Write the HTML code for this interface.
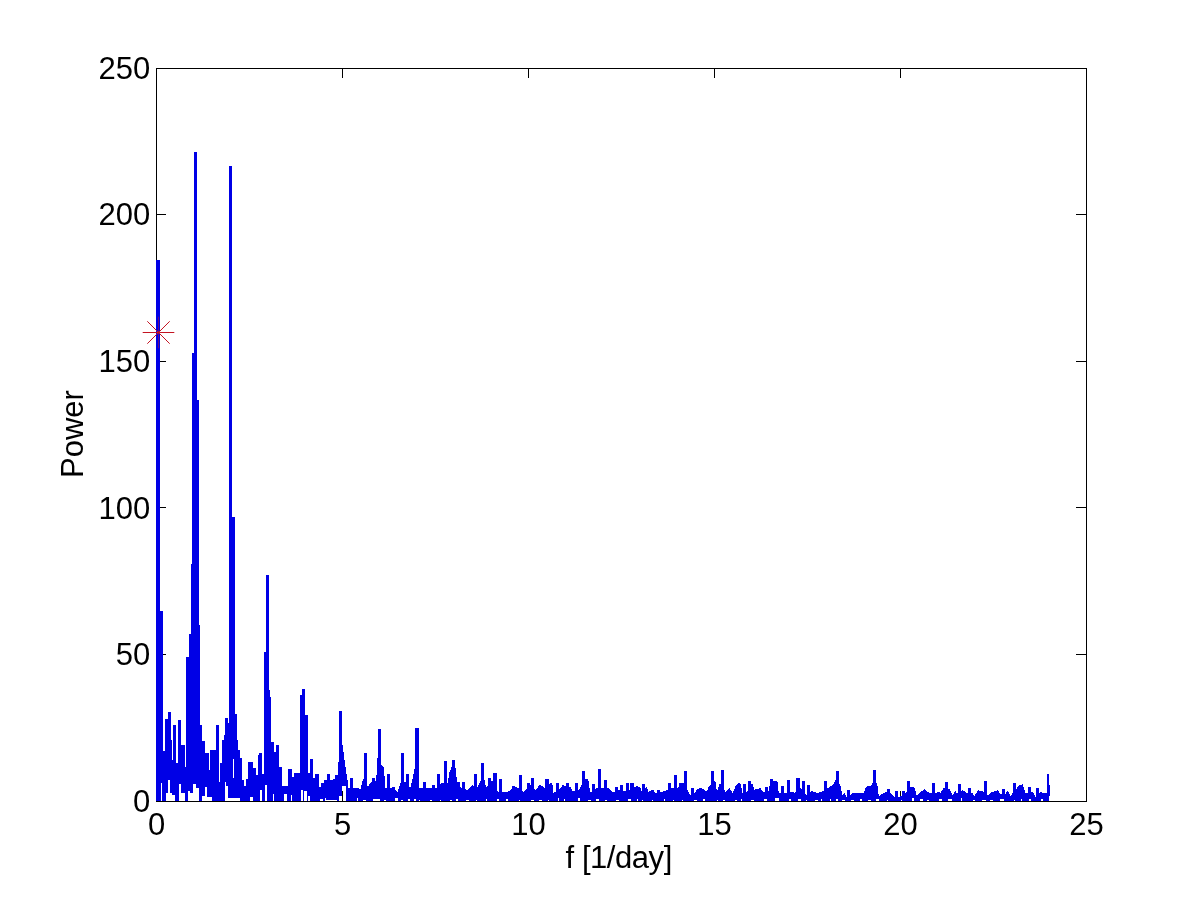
<!DOCTYPE html>
<html lang="en">
<head>
<meta charset="utf-8">
<title>Periodogram: Power vs f [1/day]</title>
<style>
html,body{margin:0;padding:0;background:#fff;}
body{width:1200px;height:900px;overflow:hidden;}
svg{display:block;}
text{font-family:"Liberation Sans",Arial,Helvetica,sans-serif;font-size:31.0px;fill:#000;}
</style>
</head>
<body>
<svg width="1200" height="900" viewBox="0 0 1200 900">
<rect width="1200" height="900" fill="#ffffff"/>
<g id="axes" fill="none" stroke="#000" stroke-width="1" shape-rendering="crispEdges">
<rect x="156.5" y="68.5" width="930.0" height="733.0"/>
<path d="M342.5,801.5V791.0M342.5,68.5V78.0M528.5,801.5V791.0M528.5,68.5V78.0M714.5,801.5V791.0M714.5,68.5V78.0M900.5,801.5V791.0M900.5,68.5V78.0M156.5,654.5H166.0M1086.5,654.5H1076.0M156.5,507.5H166.0M1086.5,507.5H1076.0M156.5,361.5H166.0M1086.5,361.5H1076.0M156.5,214.5H166.0M1086.5,214.5H1076.0"/>
</g>
<g id="series" shape-rendering="crispEdges">
<path fill="#0000e6" d="M156.00,260.0 L160.00,260.0 L160.00,611.0 L163.00,611.0 L163.00,751.0 L165.00,751.0 L165.00,718.5 L168.00,718.5 L168.00,712.0 L171.00,712.0 L171.00,740.0 L172.00,740.0 L172.00,760.0 L173.00,760.0 L173.00,725.0 L176.00,725.0 L176.00,763.0 L178.00,763.0 L178.00,720.0 L181.00,720.0 L181.00,745.0 L184.50,745.0 L184.50,767.0 L186.00,767.0 L186.00,656.7 L188.50,656.7 L188.50,634.0 L191.00,634.0 L191.00,564.0 L191.50,564.0 L191.50,353.0 L194.00,353.0 L194.00,152.0 L197.00,152.0 L197.00,400.0 L198.50,400.0 L198.50,625.0 L200.00,625.0 L200.00,725.0 L201.50,725.0 L201.50,741.0 L205.00,741.0 L205.00,753.0 L208.50,753.0 L208.50,770.0 L210.00,770.0 L210.00,749.5 L215.50,749.5 L215.50,750.5 L216.00,750.5 L216.00,725.0 L219.00,725.0 L219.00,782.0 L220.00,782.0 L220.00,763.0 L221.50,763.0 L221.50,740.0 L223.50,740.0 L223.50,734.5 L225.00,734.5 L225.00,718.0 L228.00,718.0 L228.00,723.0 L229.00,723.0 L229.00,165.8 L232.00,165.8 L232.00,517.0 L235.00,517.0 L235.00,714.0 L236.50,714.0 L236.50,740.0 L238.00,740.0 L238.00,750.0 L239.50,750.0 L239.50,758.0 L242.00,758.0 L242.00,780.0 L244.00,780.0 L244.00,786.0 L246.00,786.0 L246.00,779.0 L248.00,779.0 L248.00,762.0 L253.00,762.0 L253.00,768.0 L256.00,768.0 L256.00,775.0 L258.00,775.0 L258.00,755.0 L259.00,755.0 L259.00,753.0 L262.00,753.0 L262.00,774.0 L263.50,774.0 L263.50,652.0 L266.00,652.0 L266.00,575.0 L269.00,575.0 L269.00,690.0 L270.00,690.0 L270.00,697.0 L271.00,697.0 L271.00,741.7 L274.00,741.7 L274.00,752.0 L276.00,752.0 L276.00,744.5 L279.00,744.5 L279.00,766.7 L281.50,766.7 L281.50,786.0 L287.50,786.0 L287.50,769.0 L291.50,769.0 L291.50,777.0 L294.00,777.0 L294.00,772.5 L300.00,772.5 L300.00,695.0 L302.00,695.0 L302.00,689.0 L305.00,689.0 L305.00,715.0 L308.00,715.0 L308.00,773.0 L310.00,773.0 L310.00,759.0 L312.50,759.0 L312.50,778.0 L315.00,778.0 L315.00,774.0 L318.50,774.0 L318.50,786.7 L321.00,786.7 L321.00,782.5 L324.00,782.5 L324.00,780.0 L326.50,780.0 L326.50,774.0 L330.00,774.0 L330.00,780.0 L332.50,780.0 L332.50,779.0 L335.00,779.0 L335.00,775.0 L338.00,775.0 L338.00,762.0 L339.00,762.0 L339.00,711.3 L342.00,711.3 L342.00,745.0 L343.00,745.0 L343.00,752.0 L343.50,752.0 L343.50,760.0 L344.50,760.0 L344.50,767.0 L345.50,767.0 L345.50,774.0 L346.50,774.0 L346.50,780.0 L347.50,780.0 L347.50,788.0 L350.00,788.0 L350.00,777.5 L353.00,777.5 L353.00,788.0 L354.00,788.0 L354.00,788.0 L354.50,788.0 L354.50,787.9 L355.00,787.9 L355.00,787.8 L355.50,787.8 L355.50,787.8 L356.00,787.8 L356.00,787.7 L356.50,787.7 L356.50,787.6 L357.00,787.6 L357.00,787.5 L357.50,787.5 L357.50,787.8 L358.00,787.8 L358.00,788.2 L358.50,788.2 L358.50,788.8 L359.00,788.8 L359.00,789.2 L359.50,789.2 L359.50,789.8 L360.00,789.8 L360.00,789.0 L360.50,789.0 L360.50,787.0 L361.00,787.0 L361.00,785.0 L361.50,785.0 L361.50,783.0 L362.00,783.0 L362.00,781.0 L362.50,781.0 L362.50,779.0 L363.00,779.0 L363.00,778.5 L363.50,778.5 L363.50,779.5 L364.00,779.5 L364.00,752.5 L367.00,752.5 L367.00,786.2 L367.50,786.2 L367.50,786.3 L368.00,786.3 L368.00,785.6 L368.50,785.6 L368.50,784.8 L369.00,784.8 L369.00,784.0 L369.50,784.0 L369.50,783.3 L370.00,783.3 L370.00,782.5 L370.50,782.5 L370.50,781.8 L371.00,781.8 L371.00,781.6 L371.50,781.6 L371.50,781.6 L372.00,781.6 L372.00,778.3 L375.00,778.3 L375.00,781.1 L375.50,781.1 L375.50,781.0 L376.00,781.0 L376.00,775.0 L376.50,775.0 L376.50,763.0 L377.00,763.0 L377.00,757.5 L377.50,757.5 L377.50,758.4 L378.00,758.4 L378.00,729.2 L381.00,729.2 L381.00,765.0 L381.50,765.0 L381.50,765.5 L382.00,765.5 L382.00,766.0 L382.50,766.0 L382.50,766.5 L383.00,766.5 L383.00,767.0 L383.50,767.0 L383.50,768.3 L384.00,768.3 L384.00,776.2 L384.50,776.2 L384.50,784.1 L385.00,784.1 L385.00,788.0 L387.00,788.0 L387.00,774.0 L390.00,774.0 L390.00,788.0 L391.00,788.0 L391.00,788.1 L391.50,788.1 L391.50,788.4 L392.00,788.4 L392.00,786.7 L395.00,786.7 L395.00,790.4 L395.50,790.4 L395.50,790.7 L396.00,790.7 L396.00,791.0 L396.50,791.0 L396.50,791.3 L397.00,791.3 L397.00,791.6 L397.50,791.6 L397.50,790.9 L398.00,790.9 L398.00,789.4 L398.50,789.4 L398.50,787.8 L399.00,787.8 L399.00,786.3 L399.50,786.3 L399.50,784.7 L400.00,784.7 L400.00,783.2 L400.50,783.2 L400.50,782.9 L401.00,782.9 L401.00,753.3 L404.00,753.3 L404.00,781.8 L404.50,781.8 L404.50,781.8 L405.00,781.8 L405.00,782.4 L405.50,782.4 L405.50,782.9 L406.00,782.9 L406.00,774.0 L409.00,774.0 L409.00,787.1 L409.50,787.1 L409.50,787.7 L410.00,787.7 L410.00,787.0 L410.50,787.0 L410.50,785.0 L411.00,785.0 L411.00,783.0 L411.50,783.0 L411.50,781.0 L412.00,781.0 L412.00,779.0 L412.50,779.0 L412.50,776.7 L413.00,776.7 L413.00,774.1 L413.50,774.1 L413.50,771.6 L414.00,771.6 L414.00,769.0 L414.50,769.0 L414.50,766.9 L415.00,766.9 L415.00,728.3 L418.50,728.3 L418.50,786.8 L419.00,786.8 L419.00,788.0 L422.50,788.0 L422.50,781.7 L425.50,781.7 L425.50,788.0 L432.00,788.0 L432.00,785.0 L435.00,785.0 L435.00,788.0 L436.00,788.0 L436.00,787.5 L436.50,787.5 L436.50,787.0 L437.00,787.0 L437.00,774.0 L440.00,774.0 L440.00,783.5 L440.50,783.5 L440.50,783.0 L441.00,783.0 L441.00,783.0 L444.00,783.0 L444.00,761.3 L447.00,761.3 L447.00,783.0 L447.50,783.0 L447.50,781.3 L448.00,781.3 L448.00,778.0 L448.50,778.0 L448.50,774.7 L449.00,774.7 L449.00,772.3 L449.50,772.3 L449.50,770.9 L450.00,770.9 L450.00,769.5 L450.50,769.5 L450.50,768.1 L451.00,768.1 L451.00,766.7 L451.50,766.7 L451.50,766.1 L452.00,766.1 L452.00,760.0 L455.00,760.0 L455.00,768.0 L455.50,768.0 L455.50,772.4 L456.00,772.4 L456.00,777.3 L456.50,777.3 L456.50,781.8 L457.00,781.8 L457.00,781.7 L460.00,781.7 L460.00,787.2 L460.50,787.2 L460.50,787.9 L461.00,787.9 L461.00,788.1 L461.50,788.1 L461.50,788.3 L462.00,788.3 L462.00,781.7 L465.00,781.7 L465.00,789.3 L465.50,789.3 L465.50,789.5 L466.00,789.5 L466.00,789.6 L466.50,789.6 L466.50,789.8 L467.00,789.8 L467.00,789.9 L467.50,789.9 L467.50,789.7 L468.00,789.7 L468.00,789.1 L468.50,789.1 L468.50,788.5 L469.00,788.5 L469.00,787.9 L469.50,787.9 L469.50,787.3 L470.00,787.3 L470.00,786.7 L470.50,786.7 L470.50,786.1 L471.00,786.1 L471.00,785.5 L471.50,785.5 L471.50,785.0 L472.00,785.0 L472.00,785.2 L472.50,785.2 L472.50,785.3 L473.00,785.3 L473.00,785.5 L473.50,785.5 L473.50,785.6 L474.00,785.6 L474.00,774.0 L477.00,774.0 L477.00,786.6 L477.50,786.6 L477.50,786.1 L478.00,786.1 L478.00,785.0 L478.50,785.0 L478.50,783.9 L479.00,783.9 L479.00,782.8 L479.50,782.8 L479.50,781.7 L480.00,781.7 L480.00,780.6 L480.50,780.6 L480.50,780.0 L481.00,780.0 L481.00,763.3 L484.00,763.3 L484.00,780.0 L484.50,780.0 L484.50,781.5 L485.00,781.5 L485.00,784.6 L485.50,784.6 L485.50,787.7 L486.00,787.7 L486.00,787.4 L486.50,787.4 L486.50,786.8 L487.00,786.8 L487.00,786.1 L487.50,786.1 L487.50,785.5 L488.00,785.5 L488.00,778.0 L491.00,778.0 L491.00,781.0 L491.50,781.0 L491.50,780.3 L492.00,780.3 L492.00,780.5 L492.50,780.5 L492.50,781.6 L493.00,781.6 L493.00,772.5 L497.00,772.5 L497.00,791.2 L497.50,791.2 L497.50,791.7 L499.00,791.7 L499.00,779.0 L502.00,779.0 L502.00,791.7 L503.00,791.7 L503.00,791.8 L503.50,791.8 L503.50,791.9 L504.00,791.9 L504.00,792.0 L504.50,792.0 L504.50,792.1 L505.00,792.1 L505.00,792.2 L505.50,792.2 L505.50,792.3 L506.00,792.3 L506.00,792.4 L506.50,792.4 L506.50,792.5 L507.00,792.5 L507.00,792.1 L507.50,792.1 L507.50,791.7 L508.00,791.7 L508.00,791.3 L508.50,791.3 L508.50,790.9 L509.00,790.9 L509.00,790.6 L509.50,790.6 L509.50,790.2 L510.00,790.2 L510.00,789.9 L510.50,789.9 L510.50,789.6 L511.00,789.6 L511.00,789.4 L511.50,789.4 L511.50,789.1 L512.00,789.1 L512.00,786.0 L515.00,786.0 L515.00,787.4 L515.50,787.4 L515.50,787.1 L516.00,787.1 L516.00,787.2 L516.50,787.2 L516.50,787.5 L517.00,787.5 L517.00,787.8 L517.50,787.8 L517.50,788.1 L518.00,788.1 L518.00,788.4 L518.50,788.4 L518.50,775.3 L521.50,775.3 L521.50,790.7 L522.00,790.7 L522.00,791.0 L522.50,791.0 L522.50,791.3 L523.00,791.3 L523.00,791.7 L523.50,791.7 L523.50,791.2 L524.00,791.2 L524.00,790.8 L524.50,790.8 L524.50,790.2 L525.00,790.2 L525.00,789.8 L525.50,789.8 L525.50,789.2 L526.00,789.2 L526.00,788.8 L526.50,788.8 L526.50,782.5 L529.50,782.5 L529.50,785.2 L530.00,785.2 L530.00,785.2 L530.50,785.2 L530.50,785.6 L531.00,785.6 L531.00,777.5 L534.00,777.5 L534.00,788.7 L534.50,788.7 L534.50,789.1 L535.00,789.1 L535.00,789.5 L535.50,789.5 L535.50,790.0 L536.00,790.0 L536.00,789.3 L536.50,789.3 L536.50,788.5 L537.00,788.5 L537.00,787.7 L537.50,787.7 L537.50,787.0 L538.00,787.0 L538.00,786.2 L538.50,786.2 L538.50,785.4 L539.00,785.4 L539.00,785.1 L539.50,785.1 L539.50,785.2 L540.00,785.2 L540.00,785.4 L540.50,785.4 L540.50,785.5 L541.00,785.5 L541.00,785.7 L541.50,785.7 L541.50,785.8 L542.00,785.8 L542.00,786.3 L542.50,786.3 L542.50,786.7 L543.00,786.7 L543.00,787.2 L543.50,787.2 L543.50,787.6 L544.00,787.6 L544.00,788.0 L544.50,788.0 L544.50,779.0 L548.50,779.0 L548.50,784.2 L549.00,784.2 L549.00,783.8 L549.50,783.8 L549.50,783.4 L550.00,783.4 L550.00,783.0 L550.50,783.0 L550.50,782.5 L551.00,782.5 L551.00,782.7 L551.50,782.7 L551.50,782.9 L552.00,782.9 L552.00,784.9 L552.50,784.9 L552.50,788.8 L553.00,788.8 L553.00,792.6 L553.50,792.6 L553.50,792.7 L554.00,792.7 L554.00,792.3 L554.50,792.3 L554.50,791.9 L555.00,791.9 L555.00,791.5 L555.50,791.5 L555.50,791.2 L556.00,791.2 L556.00,782.5 L559.00,782.5 L559.00,788.6 L559.50,788.6 L559.50,788.2 L560.00,788.2 L560.00,787.7 L560.50,787.7 L560.50,787.1 L561.00,787.1 L561.00,786.5 L561.50,786.5 L561.50,785.9 L562.00,785.9 L562.00,785.3 L562.50,785.3 L562.50,785.1 L563.00,785.1 L563.00,785.2 L563.50,785.2 L563.50,785.3 L564.00,785.3 L564.00,785.5 L564.50,785.5 L564.50,785.6 L565.00,785.6 L565.00,785.7 L565.50,785.7 L565.50,785.9 L566.00,785.9 L566.00,782.5 L569.00,782.5 L569.00,786.8 L569.50,786.8 L569.50,786.9 L570.00,786.9 L570.00,787.4 L570.50,787.4 L570.50,788.2 L571.00,788.2 L571.00,789.0 L571.50,789.0 L571.50,789.8 L572.00,789.8 L572.00,790.6 L572.50,790.6 L572.50,791.0 L573.00,791.0 L573.00,790.9 L573.50,790.9 L573.50,790.8 L574.00,790.8 L574.00,790.7 L574.50,790.7 L574.50,790.6 L575.00,790.6 L575.00,783.0 L578.00,783.0 L578.00,790.1 L578.50,790.1 L578.50,789.9 L579.00,789.9 L579.00,788.8 L579.50,788.8 L579.50,787.7 L580.00,787.7 L580.00,786.6 L580.50,786.6 L580.50,785.6 L581.00,785.6 L581.00,784.9 L581.50,784.9 L581.50,784.2 L582.00,784.2 L582.00,771.3 L585.00,771.3 L585.00,779.1 L585.50,779.1 L585.50,779.1 L586.00,779.1 L586.00,779.2 L586.50,779.2 L586.50,779.3 L587.00,779.3 L587.00,779.4 L587.50,779.4 L587.50,779.5 L588.00,779.5 L588.00,781.1 L588.50,781.1 L588.50,784.4 L589.00,784.4 L589.00,787.6 L589.50,787.6 L589.50,790.9 L590.00,790.9 L590.00,792.3 L590.50,792.3 L590.50,792.0 L591.00,792.0 L591.00,791.6 L591.50,791.6 L591.50,791.2 L592.00,791.2 L592.00,784.0 L595.00,784.0 L595.00,788.8 L595.50,788.8 L595.50,788.4 L596.00,788.4 L596.00,788.0 L596.50,788.0 L596.50,788.0 L598.00,788.0 L598.00,769.0 L601.00,769.0 L601.00,788.0 L604.00,788.0 L604.00,780.3 L607.00,780.3 L607.00,788.0 L608.00,788.0 L608.00,788.2 L608.50,788.2 L608.50,788.8 L609.00,788.8 L609.00,789.2 L609.50,789.2 L609.50,789.8 L610.00,789.8 L610.00,790.2 L610.50,790.2 L610.50,790.8 L611.00,790.8 L611.00,791.2 L611.50,791.2 L611.50,791.8 L612.00,791.8 L612.00,792.2 L612.50,792.2 L612.50,792.4 L613.00,792.4 L613.00,792.2 L613.50,792.2 L613.50,792.0 L614.00,792.0 L614.00,791.7 L614.50,791.7 L614.50,787.0 L617.50,787.0 L617.50,790.2 L618.00,790.2 L618.00,790.0 L618.50,790.0 L618.50,790.1 L619.00,790.1 L619.00,790.2 L619.50,790.2 L619.50,785.0 L622.50,785.0 L622.50,790.9 L623.00,790.9 L623.00,791.0 L623.50,791.0 L623.50,790.9 L624.00,790.9 L624.00,790.9 L624.50,790.9 L624.50,790.8 L625.00,790.8 L625.00,790.7 L625.50,790.7 L625.50,790.6 L626.00,790.6 L626.00,782.5 L629.00,782.5 L629.00,790.1 L629.50,790.1 L629.50,790.0 L630.00,790.0 L630.00,782.5 L634.00,782.5 L634.00,787.4 L634.50,787.4 L634.50,787.1 L635.00,787.1 L635.00,786.8 L635.50,786.8 L635.50,786.5 L636.00,786.5 L636.00,786.3 L636.50,786.3 L636.50,786.0 L637.00,786.0 L637.00,786.2 L637.50,786.2 L637.50,786.5 L638.00,786.5 L638.00,786.7 L638.50,786.7 L638.50,786.9 L639.00,786.9 L639.00,787.2 L639.50,787.2 L639.50,787.4 L640.00,787.4 L640.00,788.1 L640.50,788.1 L640.50,789.4 L641.00,789.4 L641.00,790.6 L641.50,790.6 L641.50,791.7 L642.00,791.7 L642.00,784.0 L645.00,784.0 L645.00,788.2 L645.50,788.2 L645.50,787.7 L646.00,787.7 L646.00,787.2 L646.50,787.2 L646.50,786.9 L647.00,786.9 L647.00,788.8 L647.50,788.8 L647.50,790.7 L648.00,790.7 L648.00,791.6 L648.50,791.6 L648.50,791.4 L649.00,791.4 L649.00,791.2 L649.50,791.2 L649.50,791.0 L650.00,791.0 L650.00,790.8 L650.50,790.8 L650.50,790.6 L651.00,790.6 L651.00,790.4 L651.50,790.4 L651.50,790.2 L652.00,790.2 L652.00,790.0 L652.50,790.0 L652.50,789.8 L653.00,789.8 L653.00,790.1 L653.50,790.1 L653.50,790.9 L654.00,790.9 L654.00,791.8 L654.50,791.8 L654.50,792.6 L655.00,792.6 L655.00,793.0 L655.50,793.0 L655.50,792.9 L656.00,792.9 L656.00,792.8 L656.50,792.8 L656.50,792.7 L657.00,792.7 L657.00,790.0 L660.00,790.0 L660.00,792.0 L660.50,792.0 L660.50,791.9 L661.00,791.9 L661.00,791.8 L661.50,791.8 L661.50,791.7 L662.00,791.7 L662.00,791.5 L662.50,791.5 L662.50,791.3 L663.00,791.3 L663.00,791.2 L663.50,791.2 L663.50,791.0 L664.00,791.0 L664.00,790.8 L664.50,790.8 L664.50,790.7 L665.00,790.7 L665.00,790.5 L665.50,790.5 L665.50,790.3 L666.00,790.3 L666.00,790.2 L666.50,790.2 L666.50,790.0 L667.00,790.0 L667.00,789.8 L667.50,789.8 L667.50,789.6 L668.00,789.6 L668.00,782.5 L671.00,782.5 L671.00,788.4 L671.50,788.4 L671.50,788.3 L672.00,788.3 L672.00,788.1 L672.50,788.1 L672.50,788.0 L674.00,788.0 L674.00,775.0 L677.00,775.0 L677.00,788.0 L678.00,788.0 L678.00,786.8 L678.50,786.8 L678.50,784.2 L679.00,784.2 L679.00,783.0 L679.50,783.0 L679.50,782.9 L680.00,782.9 L680.00,782.9 L680.50,782.9 L680.50,782.8 L681.00,782.8 L681.00,782.8 L681.50,782.8 L681.50,782.7 L682.00,782.7 L682.00,782.6 L682.50,782.6 L682.50,782.6 L683.00,782.6 L683.00,782.5 L683.50,782.5 L683.50,783.0 L684.00,783.0 L684.00,771.3 L687.00,771.3 L687.00,790.2 L687.50,790.2 L687.50,791.2 L688.00,791.2 L688.00,792.1 L688.50,792.1 L688.50,792.9 L689.00,792.9 L689.00,793.8 L689.50,793.8 L689.50,794.6 L690.00,794.6 L690.00,794.9 L690.50,794.9 L690.50,794.7 L691.00,794.7 L691.00,788.0 L694.00,788.0 L694.00,793.2 L694.50,793.2 L694.50,792.9 L695.00,792.9 L695.00,791.9 L695.50,791.9 L695.50,790.9 L696.00,790.9 L696.00,789.9 L696.50,789.9 L696.50,789.0 L697.00,789.0 L697.00,788.9 L697.50,788.9 L697.50,788.7 L698.00,788.7 L698.00,788.6 L698.50,788.6 L698.50,788.5 L699.00,788.5 L699.00,788.4 L699.50,788.4 L699.50,788.3 L700.00,788.3 L700.00,788.1 L700.50,788.1 L700.50,788.0 L701.00,788.0 L701.00,788.2 L701.50,788.2 L701.50,788.5 L702.00,788.5 L702.00,788.8 L702.50,788.8 L702.50,789.0 L703.00,789.0 L703.00,789.3 L703.50,789.3 L703.50,789.6 L704.00,789.6 L704.00,789.9 L704.50,789.9 L704.50,790.3 L705.00,790.3 L705.00,790.6 L705.50,790.6 L705.50,791.0 L706.00,791.0 L706.00,791.4 L706.50,791.4 L706.50,791.6 L707.00,791.6 L707.00,790.1 L707.50,790.1 L707.50,788.7 L708.00,788.7 L708.00,787.3 L708.50,787.3 L708.50,786.0 L709.00,786.0 L709.00,785.5 L709.50,785.5 L709.50,785.0 L710.00,785.0 L710.00,784.5 L710.50,784.5 L710.50,784.0 L711.00,784.0 L711.00,771.3 L714.00,771.3 L714.00,780.7 L714.50,780.7 L714.50,780.2 L715.00,780.2 L715.00,781.7 L715.50,781.7 L715.50,785.2 L716.00,785.2 L716.00,788.6 L716.50,788.6 L716.50,791.5 L717.00,791.5 L717.00,790.0 L717.50,790.0 L717.50,788.5 L718.00,788.5 L718.00,786.9 L718.50,786.9 L718.50,785.4 L719.00,785.4 L719.00,783.9 L719.50,783.9 L719.50,782.6 L720.00,782.6 L720.00,783.5 L720.50,783.5 L720.50,784.3 L721.00,784.3 L721.00,770.3 L724.00,770.3 L724.00,790.4 L724.50,790.4 L724.50,791.3 L725.00,791.3 L725.00,791.5 L725.50,791.5 L725.50,791.0 L726.00,791.0 L726.00,790.5 L726.50,790.5 L726.50,790.1 L727.00,790.1 L727.00,789.6 L727.50,789.6 L727.50,789.2 L728.00,789.2 L728.00,788.7 L728.50,788.7 L728.50,788.2 L729.00,788.2 L729.00,788.4 L729.50,788.4 L729.50,789.1 L730.00,789.1 L730.00,789.8 L730.50,789.8 L730.50,790.5 L731.00,790.5 L731.00,791.2 L731.50,791.2 L731.50,791.9 L732.00,791.9 L732.00,792.6 L732.50,792.6 L732.50,792.4 L733.00,792.4 L733.00,791.2 L733.50,791.2 L733.50,790.0 L734.00,790.0 L734.00,788.8 L734.50,788.8 L734.50,787.5 L735.00,787.5 L735.00,786.3 L735.50,786.3 L735.50,785.1 L736.00,785.1 L736.00,784.6 L736.50,784.6 L736.50,784.3 L737.00,784.3 L737.00,783.9 L737.50,783.9 L737.50,783.5 L738.00,783.5 L738.00,783.1 L738.50,783.1 L738.50,782.7 L739.00,782.7 L739.00,782.8 L739.50,782.8 L739.50,783.5 L740.00,783.5 L740.00,784.2 L740.50,784.2 L740.50,784.9 L741.00,784.9 L741.00,788.0 L741.50,788.0 L741.50,791.3 L742.00,791.3 L742.00,792.9 L742.50,792.9 L742.50,792.8 L743.00,792.8 L743.00,784.0 L746.00,784.0 L746.00,791.8 L746.50,791.8 L746.50,791.6 L747.00,791.6 L747.00,790.8 L747.50,790.8 L747.50,790.0 L748.00,790.0 L748.00,781.3 L751.00,781.3 L751.00,784.2 L751.50,784.2 L751.50,783.4 L752.00,783.4 L752.00,783.8 L752.50,783.8 L752.50,785.5 L753.00,785.5 L753.00,787.2 L753.50,787.2 L753.50,788.9 L754.00,788.9 L754.00,789.6 L754.50,789.6 L754.50,789.5 L755.00,789.5 L755.00,789.3 L755.50,789.3 L755.50,789.2 L756.00,789.2 L756.00,789.1 L756.50,789.1 L756.50,788.9 L757.00,788.9 L757.00,788.8 L757.50,788.8 L757.50,788.6 L758.00,788.6 L758.00,788.5 L758.50,788.5 L758.50,788.4 L759.00,788.4 L759.00,788.2 L759.50,788.2 L759.50,788.1 L760.00,788.1 L760.00,788.4 L760.50,788.4 L760.50,789.1 L761.00,789.1 L761.00,789.9 L761.50,789.9 L761.50,790.6 L762.00,790.6 L762.00,791.4 L762.50,791.4 L762.50,792.1 L763.00,792.1 L763.00,792.4 L763.50,792.4 L763.50,792.3 L764.00,792.3 L764.00,792.2 L764.50,792.2 L764.50,792.0 L765.00,792.0 L765.00,787.0 L768.00,787.0 L768.00,791.1 L768.50,791.1 L768.50,790.5 L769.00,790.5 L769.00,786.0 L769.50,786.0 L769.50,781.5 L770.00,781.5 L770.00,779.0 L773.00,779.0 L773.00,781.3 L777.00,781.3 L777.00,781.7 L777.50,781.7 L777.50,786.2 L778.00,786.2 L778.00,790.7 L778.50,790.7 L778.50,793.0 L781.00,793.0 L781.00,786.0 L784.00,786.0 L784.00,793.0 L785.00,793.0 L785.00,792.9 L785.50,792.9 L785.50,792.8 L786.00,792.8 L786.00,792.7 L786.50,792.7 L786.50,792.6 L787.00,792.6 L787.00,780.3 L790.00,780.3 L790.00,791.8 L790.50,791.8 L790.50,791.7 L791.00,791.7 L791.00,791.8 L791.50,791.8 L791.50,791.9 L792.00,791.9 L792.00,792.0 L792.50,792.0 L792.50,792.2 L793.00,792.2 L793.00,792.3 L793.50,792.3 L793.50,792.4 L794.00,792.4 L794.00,792.5 L794.50,792.5 L794.50,792.1 L795.00,792.1 L795.00,791.7 L795.50,791.7 L795.50,777.5 L799.50,777.5 L799.50,788.4 L800.00,788.4 L800.00,788.0 L800.50,788.0 L800.50,788.6 L801.00,788.6 L801.00,789.2 L801.50,789.2 L801.50,789.8 L802.00,789.8 L802.00,781.3 L805.00,781.3 L805.00,794.3 L805.50,794.3 L805.50,794.9 L806.00,794.9 L806.00,794.7 L806.50,794.7 L806.50,794.4 L807.00,794.4 L807.00,785.3 L810.00,785.3 L810.00,792.0 L810.50,792.0 L810.50,791.6 L811.00,791.6 L811.00,791.3 L811.50,791.3 L811.50,791.0 L812.00,791.0 L812.00,791.2 L812.50,791.2 L812.50,791.4 L813.00,791.4 L813.00,791.6 L813.50,791.6 L813.50,791.8 L814.00,791.8 L814.00,792.0 L814.50,792.0 L814.50,792.2 L815.00,792.2 L815.00,792.4 L815.50,792.4 L815.50,792.6 L816.00,792.6 L816.00,792.8 L816.50,792.8 L816.50,793.0 L817.00,793.0 L817.00,792.9 L817.50,792.9 L817.50,792.7 L818.00,792.7 L818.00,792.6 L818.50,792.6 L818.50,792.5 L819.00,792.5 L819.00,792.3 L819.50,792.3 L819.50,792.2 L820.00,792.2 L820.00,792.1 L820.50,792.1 L820.50,791.9 L821.00,791.9 L821.00,791.8 L821.50,791.8 L821.50,791.7 L822.00,791.7 L822.00,791.4 L822.50,791.4 L822.50,791.0 L823.00,791.0 L823.00,790.7 L823.50,790.7 L823.50,790.4 L824.00,790.4 L824.00,781.3 L827.00,781.3 L827.00,788.2 L827.50,788.2 L827.50,787.9 L828.00,787.9 L828.00,787.5 L828.50,787.5 L828.50,787.2 L829.00,787.2 L829.00,786.9 L829.50,786.9 L829.50,786.6 L830.00,786.6 L830.00,786.3 L830.50,786.3 L830.50,786.0 L831.00,786.0 L831.00,785.7 L831.50,785.7 L831.50,785.4 L832.00,785.4 L832.00,785.1 L832.50,785.1 L832.50,784.5 L833.00,784.5 L833.00,783.5 L833.50,783.5 L833.50,782.5 L834.00,782.5 L834.00,781.5 L834.50,781.5 L834.50,780.5 L835.00,780.5 L835.00,780.2 L835.50,780.2 L835.50,780.8 L836.00,780.8 L836.00,771.3 L839.00,771.3 L839.00,784.2 L839.50,784.2 L839.50,784.8 L840.00,784.8 L840.00,786.2 L840.50,786.2 L840.50,788.8 L841.00,788.8 L841.00,791.2 L841.50,791.2 L841.50,793.8 L842.00,793.8 L842.00,794.8 L842.50,794.8 L842.50,794.2 L843.00,794.2 L843.00,793.8 L843.50,793.8 L843.50,793.2 L844.00,793.2 L844.00,793.4 L844.50,793.4 L844.50,794.2 L845.00,794.2 L845.00,795.0 L845.50,795.0 L845.50,795.8 L846.00,795.8 L846.00,796.6 L846.50,796.6 L846.50,796.5 L847.00,796.5 L847.00,790.0 L850.00,790.0 L850.00,794.5 L850.50,794.5 L850.50,794.2 L851.00,794.2 L851.00,794.0 L851.50,794.0 L851.50,793.7 L852.00,793.7 L852.00,793.4 L852.50,793.4 L852.50,793.1 L853.00,793.1 L853.00,793.0 L863.50,793.0 L863.50,791.9 L864.00,791.9 L864.00,790.6 L864.50,790.6 L864.50,789.3 L865.00,789.3 L865.00,788.1 L865.50,788.1 L865.50,786.8 L866.00,786.8 L866.00,786.6 L866.50,786.6 L866.50,786.5 L867.00,786.5 L867.00,786.4 L867.50,786.4 L867.50,786.3 L868.00,786.3 L868.00,786.3 L868.50,786.3 L868.50,786.2 L869.00,786.2 L869.00,786.1 L869.50,786.1 L869.50,786.0 L870.00,786.0 L870.00,785.9 L870.50,785.9 L870.50,785.8 L871.00,785.8 L871.00,785.1 L871.50,785.1 L871.50,784.2 L872.00,784.2 L872.00,783.4 L872.50,783.4 L872.50,783.0 L873.00,783.0 L873.00,770.3 L876.00,770.3 L876.00,782.6 L876.50,782.6 L876.50,782.9 L877.00,782.9 L877.00,786.4 L877.50,786.4 L877.50,790.0 L878.00,790.0 L878.00,793.5 L878.50,793.5 L878.50,796.7 L879.00,796.7 L879.00,796.2 L879.50,796.2 L879.50,795.8 L880.00,795.8 L880.00,795.3 L880.50,795.3 L880.50,794.9 L881.00,794.9 L881.00,794.4 L881.50,794.4 L881.50,794.0 L882.00,794.0 L882.00,793.7 L882.50,793.7 L882.50,793.4 L883.00,793.4 L883.00,793.1 L883.50,793.1 L883.50,792.9 L884.00,792.9 L884.00,792.6 L884.50,792.6 L884.50,792.3 L885.00,792.3 L885.00,792.0 L885.50,792.0 L885.50,791.7 L886.00,791.7 L886.00,791.9 L886.50,791.9 L886.50,792.1 L887.00,792.1 L887.00,789.0 L890.00,789.0 L890.00,793.4 L890.50,793.4 L890.50,793.6 L891.00,793.6 L891.00,793.8 L891.50,793.8 L891.50,794.1 L892.00,794.1 L892.00,794.6 L892.50,794.6 L892.50,795.1 L893.00,795.1 L893.00,795.7 L893.50,795.7 L893.50,796.2 L894.00,796.2 L894.00,796.7 L895.00,796.7 L895.00,791.3 L898.00,791.3 L898.00,796.7 L899.00,796.7 L899.00,796.7 L899.50,796.7 L899.50,796.4 L900.00,796.4 L900.00,796.1 L900.50,796.1 L900.50,795.8 L901.00,795.8 L901.00,795.6 L901.50,795.6 L901.50,795.3 L902.00,795.3 L902.00,791.3 L905.00,791.3 L905.00,793.3 L905.50,793.3 L905.50,793.0 L906.00,793.0 L906.00,792.4 L906.50,792.4 L906.50,791.7 L907.00,791.7 L907.00,781.3 L910.00,781.3 L910.00,787.0 L910.50,787.0 L910.50,786.4 L911.00,786.4 L911.00,786.5 L911.50,786.5 L911.50,786.7 L912.00,786.7 L912.00,786.8 L912.50,786.8 L912.50,787.0 L913.00,787.0 L913.00,787.2 L913.50,787.2 L913.50,787.4 L914.00,787.4 L914.00,788.3 L914.50,788.3 L914.50,789.9 L915.00,789.9 L915.00,791.4 L915.50,791.4 L915.50,793.0 L916.00,793.0 L916.00,794.6 L916.50,794.6 L916.50,795.9 L917.00,795.9 L917.00,795.4 L917.50,795.4 L917.50,794.9 L918.00,794.9 L918.00,794.4 L918.50,794.4 L918.50,793.9 L919.00,793.9 L919.00,793.3 L919.50,793.3 L919.50,792.8 L920.00,792.8 L920.00,792.3 L920.50,792.3 L920.50,791.8 L921.00,791.8 L921.00,791.3 L921.50,791.3 L921.50,790.9 L922.00,790.9 L922.00,790.5 L922.50,790.5 L922.50,790.1 L923.00,790.1 L923.00,789.6 L923.50,789.6 L923.50,789.2 L924.00,789.2 L924.00,789.2 L924.50,789.2 L924.50,789.6 L925.00,789.6 L925.00,790.0 L925.50,790.0 L925.50,790.4 L926.00,790.4 L926.00,790.7 L926.50,790.7 L926.50,791.1 L927.00,791.1 L927.00,791.5 L927.50,791.5 L927.50,791.8 L928.00,791.8 L928.00,792.1 L928.50,792.1 L928.50,792.4 L929.00,792.4 L929.00,792.6 L929.50,792.6 L929.50,792.9 L930.00,792.9 L930.00,793.0 L932.00,793.0 L932.00,783.3 L935.00,783.3 L935.00,793.0 L936.00,793.0 L936.00,792.8 L936.50,792.8 L936.50,792.6 L937.00,792.6 L937.00,792.4 L937.50,792.4 L937.50,792.2 L938.00,792.2 L938.00,792.0 L938.50,792.0 L938.50,791.8 L939.00,791.8 L939.00,792.0 L939.50,792.0 L939.50,792.7 L940.00,792.7 L940.00,792.6 L940.50,792.6 L940.50,791.9 L941.00,791.9 L941.00,791.1 L941.50,791.1 L941.50,790.3 L942.00,790.3 L942.00,789.6 L942.50,789.6 L942.50,788.8 L943.00,788.8 L943.00,788.1 L943.50,788.1 L943.50,788.1 L944.00,788.1 L944.00,788.2 L944.50,788.2 L944.50,788.3 L945.00,788.3 L945.00,781.7 L948.00,781.7 L948.00,788.9 L948.50,788.9 L948.50,789.0 L949.00,789.0 L949.00,789.4 L949.50,789.4 L949.50,790.3 L950.00,790.3 L950.00,791.1 L950.50,791.1 L950.50,792.0 L951.00,792.0 L951.00,792.9 L951.50,792.9 L951.50,793.7 L952.00,793.7 L952.00,794.6 L952.50,794.6 L952.50,794.6 L953.00,794.6 L953.00,793.8 L953.50,793.8 L953.50,793.0 L954.00,793.0 L954.00,792.2 L954.50,792.2 L954.50,791.4 L955.00,791.4 L955.00,791.3 L955.50,791.3 L955.50,791.9 L956.00,791.9 L956.00,792.5 L956.50,792.5 L956.50,793.0 L957.00,793.0 L957.00,792.7 L957.50,792.7 L957.50,792.5 L958.00,792.5 L958.00,784.0 L961.00,784.0 L961.00,790.6 L961.50,790.6 L961.50,790.4 L962.00,790.4 L962.00,790.1 L962.50,790.1 L962.50,790.2 L963.00,790.2 L963.00,790.5 L963.50,790.5 L963.50,790.9 L964.00,790.9 L964.00,791.2 L964.50,791.2 L964.50,791.6 L965.00,791.6 L965.00,792.0 L965.50,792.0 L965.50,792.3 L966.00,792.3 L966.00,792.7 L966.50,792.7 L966.50,793.0 L967.00,793.0 L967.00,793.0 L967.50,793.0 L967.50,792.9 L968.00,792.9 L968.00,788.0 L971.00,788.0 L971.00,792.6 L971.50,792.6 L971.50,792.6 L972.00,792.6 L972.00,792.5 L972.50,792.5 L972.50,793.2 L973.00,793.2 L973.00,794.6 L973.50,794.6 L973.50,796.0 L974.00,796.0 L974.00,796.2 L974.50,796.2 L974.50,795.3 L975.00,795.3 L975.00,794.4 L975.50,794.4 L975.50,793.5 L976.00,793.5 L976.00,792.6 L976.50,792.6 L976.50,791.7 L977.00,791.7 L977.00,790.8 L977.50,790.8 L977.50,790.3 L978.00,790.3 L978.00,790.4 L978.50,790.4 L978.50,790.5 L979.00,790.5 L979.00,790.5 L979.50,790.5 L979.50,790.6 L980.00,790.6 L980.00,790.7 L980.50,790.7 L980.50,790.8 L981.00,790.8 L981.00,790.8 L981.50,790.8 L981.50,790.9 L982.00,790.9 L982.00,791.0 L982.50,791.0 L982.50,791.2 L983.00,791.2 L983.00,791.6 L983.50,791.6 L983.50,792.0 L984.00,792.0 L984.00,781.3 L987.00,781.3 L987.00,794.8 L987.50,794.8 L987.50,794.8 L988.00,794.8 L988.00,794.5 L988.50,794.5 L988.50,794.1 L989.00,794.1 L989.00,793.8 L989.50,793.8 L989.50,793.4 L990.00,793.4 L990.00,793.0 L990.50,793.0 L990.50,792.7 L991.00,792.7 L991.00,792.3 L991.50,792.3 L991.50,792.0 L992.00,792.0 L992.00,791.8 L992.50,791.8 L992.50,791.7 L993.00,791.7 L993.00,791.5 L993.50,791.5 L993.50,791.4 L994.00,791.4 L994.00,791.3 L994.50,791.3 L994.50,791.1 L995.00,791.1 L995.00,791.0 L995.50,791.0 L995.50,790.8 L996.00,790.8 L996.00,790.7 L996.50,790.7 L996.50,790.5 L997.00,790.5 L997.00,790.4 L997.50,790.4 L997.50,790.7 L998.00,790.7 L998.00,791.4 L998.50,791.4 L998.50,792.1 L999.00,792.1 L999.00,792.9 L999.50,792.9 L999.50,793.6 L1000.00,793.6 L1000.00,794.0 L1002.00,794.0 L1002.00,789.0 L1005.00,789.0 L1005.00,794.0 L1005.50,794.0 L1005.50,793.2 L1006.00,793.2 L1006.00,792.3 L1006.50,792.3 L1006.50,791.4 L1007.00,791.4 L1007.00,790.5 L1007.50,790.5 L1007.50,790.6 L1008.00,790.6 L1008.00,791.8 L1008.50,791.8 L1008.50,793.0 L1009.00,793.0 L1009.00,794.2 L1009.50,794.2 L1009.50,795.4 L1010.00,795.4 L1010.00,795.7 L1010.50,795.7 L1010.50,795.1 L1011.00,795.1 L1011.00,794.5 L1011.50,794.5 L1011.50,793.9 L1012.00,793.9 L1012.00,793.3 L1012.50,793.3 L1012.50,792.7 L1013.00,792.7 L1013.00,783.0 L1016.00,783.0 L1016.00,788.5 L1016.50,788.5 L1016.50,787.9 L1017.00,787.9 L1017.00,787.4 L1017.50,787.4 L1017.50,786.8 L1018.00,786.8 L1018.00,786.2 L1018.50,786.2 L1018.50,785.6 L1019.00,785.6 L1019.00,785.2 L1019.50,785.2 L1019.50,785.0 L1020.00,785.0 L1020.00,784.8 L1020.50,784.8 L1020.50,784.6 L1021.00,784.6 L1021.00,784.5 L1021.50,784.5 L1021.50,784.3 L1022.00,784.3 L1022.00,784.1 L1022.50,784.1 L1022.50,784.9 L1023.00,784.9 L1023.00,786.7 L1023.50,786.7 L1023.50,788.5 L1024.00,788.5 L1024.00,790.3 L1024.50,790.3 L1024.50,792.1 L1025.00,792.1 L1025.00,793.0 L1025.50,793.0 L1025.50,792.9 L1026.00,792.9 L1026.00,792.8 L1026.50,792.8 L1026.50,792.7 L1027.00,792.7 L1027.00,792.6 L1027.50,792.6 L1027.50,792.5 L1028.00,792.5 L1028.00,787.0 L1031.00,787.0 L1031.00,791.9 L1031.50,791.9 L1031.50,791.8 L1032.00,791.8 L1032.00,791.7 L1032.50,791.7 L1032.50,792.2 L1033.00,792.2 L1033.00,793.2 L1033.50,793.2 L1033.50,794.2 L1034.00,794.2 L1034.00,795.2 L1034.50,795.2 L1034.50,796.2 L1035.00,796.2 L1035.00,796.5 L1035.50,796.5 L1035.50,796.0 L1036.00,796.0 L1036.00,788.0 L1039.00,788.0 L1039.00,792.5 L1039.50,792.5 L1039.50,792.0 L1040.00,792.0 L1040.00,791.8 L1040.50,791.8 L1040.50,792.0 L1041.00,792.0 L1041.00,792.2 L1041.50,792.2 L1041.50,792.4 L1042.00,792.4 L1042.00,792.6 L1042.50,792.6 L1042.50,792.8 L1043.00,792.8 L1043.00,793.0 L1043.50,793.0 L1043.50,792.9 L1044.00,792.9 L1044.00,792.8 L1044.50,792.8 L1044.50,792.8 L1045.00,792.8 L1045.00,792.7 L1045.50,792.7 L1045.50,792.6 L1046.00,792.6 L1046.00,792.5 L1046.50,792.5 L1046.50,792.6 L1047.00,792.6 L1047.00,774.0 L1049.00,774.0 L1049.00,785.0 L1050.00,785.0 L1050.00,795.5 L1049.00,795.5 L1049.00,801.0 L1042.50,801.0 L1042.50,798.5 L1041.00,798.5 L1041.00,801.0 L1031.00,801.0 L1031.00,799.0 L1028.50,799.0 L1028.50,801.0 L1021.50,801.0 L1021.50,799.0 L1020.50,799.0 L1020.50,801.0 L1014.50,801.0 L1014.50,799.5 L1013.50,799.5 L1013.50,801.0 L1003.50,801.0 L1003.50,799.0 L1000.00,799.0 L1000.00,801.0 L992.50,801.0 L992.50,799.5 L989.50,799.5 L989.50,801.0 L985.50,801.0 L985.50,799.5 L982.00,799.5 L982.00,801.0 L975.00,801.0 L975.00,799.5 L972.50,799.5 L972.50,801.0 L961.50,801.0 L961.50,798.0 L960.50,798.0 L960.50,801.0 L951.50,801.0 L951.50,799.0 L948.00,799.0 L948.00,801.0 L942.00,801.0 L942.00,799.0 L938.50,799.0 L938.50,801.0 L928.50,801.0 L928.50,799.5 L927.00,799.5 L927.00,801.0 L923.00,801.0 L923.00,798.5 L919.50,798.5 L919.50,801.0 L914.00,801.0 L914.00,798.0 L911.50,798.0 L911.50,801.0 L901.50,801.0 L901.50,799.5 L900.50,799.5 L900.50,801.0 L888.00,801.0 L888.00,799.5 L887.00,799.5 L887.00,801.0 L879.00,801.0 L879.00,799.0 L875.50,799.0 L875.50,801.0 L870.50,801.0 L870.50,799.5 L867.50,799.5 L867.50,801.0 L862.00,801.0 L862.00,799.0 L860.00,799.0 L860.00,801.0 L854.00,801.0 L854.00,799.5 L850.50,799.5 L850.50,801.0 L844.50,801.0 L844.50,799.5 L842.00,799.5 L842.00,801.0 L838.00,801.0 L838.00,799.0 L836.00,799.0 L836.00,801.0 L831.00,801.0 L831.00,799.0 L830.00,799.0 L830.00,801.0 L821.50,801.0 L821.50,799.0 L820.50,799.0 L820.50,801.0 L817.50,801.0 L817.50,799.5 L815.00,799.5 L815.00,801.0 L807.00,801.0 L807.00,799.5 L806.00,799.5 L806.00,801.0 L800.50,801.0 L800.50,799.0 L797.50,799.0 L797.50,801.0 L790.50,801.0 L790.50,799.0 L788.50,799.0 L788.50,801.0 L778.50,801.0 L778.50,798.0 L775.00,798.0 L775.00,801.0 L766.50,801.0 L766.50,798.5 L763.50,798.5 L763.50,801.0 L754.00,801.0 L754.00,799.5 L751.00,799.5 L751.00,801.0 L742.00,801.0 L742.00,799.0 L740.50,799.0 L740.50,801.0 L736.50,801.0 L736.50,799.5 L735.00,799.5 L735.00,801.0 L725.00,801.0 L725.00,799.5 L723.00,799.5 L723.00,801.0 L717.50,801.0 L717.50,799.5 L716.50,799.5 L716.50,801.0 L705.00,801.0 L705.00,798.5 L703.00,798.5 L703.00,801.0 L697.00,801.0 L697.00,799.5 L694.00,799.5 L694.00,801.0 L682.50,801.0 L682.50,799.5 L681.50,799.5 L681.50,801.0 L673.50,801.0 L673.50,799.5 L672.50,799.5 L672.50,801.0 L665.00,801.0 L665.00,798.5 L664.00,798.5 L664.00,801.0 L653.00,801.0 L653.00,799.5 L652.00,799.5 L652.00,801.0 L642.50,801.0 L642.50,799.5 L641.50,799.5 L641.50,801.0 L638.00,801.0 L638.00,798.5 L636.50,798.5 L636.50,801.0 L631.00,801.0 L631.00,798.5 L627.50,798.5 L627.50,801.0 L619.00,801.0 L619.00,799.5 L616.00,799.5 L616.00,801.0 L607.00,801.0 L607.00,799.5 L605.00,799.5 L605.00,801.0 L599.00,801.0 L599.00,799.0 L595.50,799.0 L595.50,801.0 L590.50,801.0 L590.50,799.5 L587.50,799.5 L587.50,801.0 L580.00,801.0 L580.00,798.0 L577.50,798.0 L577.50,801.0 L565.00,801.0 L565.00,799.0 L564.00,799.0 L564.00,801.0 L559.00,801.0 L559.00,798.0 L557.50,798.0 L557.50,801.0 L549.00,801.0 L549.00,799.5 L548.00,799.5 L548.00,801.0 L541.50,801.0 L541.50,799.5 L538.50,799.5 L538.50,801.0 L533.50,801.0 L533.50,799.5 L531.00,799.5 L531.00,801.0 L520.00,801.0 L520.00,799.5 L519.00,799.5 L519.00,801.0 L508.00,801.0 L508.00,799.0 L505.50,799.0 L505.50,801.0 L499.00,801.0 L499.00,798.5 L496.50,798.5 L496.50,801.0 L487.00,801.0 L487.00,799.0 L486.00,799.0 L486.00,801.0 L477.00,801.0 L477.00,799.5 L476.00,799.5 L476.00,801.0 L468.50,801.0 L468.50,799.5 L466.00,799.5 L466.00,801.0 L457.50,801.0 L457.50,799.0 L456.00,799.0 L456.00,801.0 L452.00,801.0 L452.00,799.5 L450.00,799.5 L450.00,801.0 L440.50,801.0 L440.50,799.5 L439.50,799.5 L439.50,801.0 L432.00,801.0 L432.00,799.5 L429.50,799.5 L429.50,801.0 L420.00,801.0 L420.00,799.5 L419.00,799.5 L419.00,801.0 L415.50,801.0 L415.50,799.0 L413.50,799.0 L413.50,801.0 L409.50,801.0 L409.50,799.0 L407.50,799.0 L407.50,801.0 L403.00,801.0 L403.00,799.5 L400.50,799.5 L400.50,801.0 L397.50,801.0 L397.50,798.0 L395.00,798.0 L395.00,801.0 L386.00,801.0 L386.00,799.5 L384.00,799.5 L384.00,801.0 L380.00,801.0 L380.00,798.5 L372.50,798.5 L372.50,801.0 L366.00,801.0 L366.00,799.5 L363.00,799.5 L363.00,801.0 L358.00,801.0 L358.00,798.0 L357.00,798.0 L357.00,801.0 L345.50,801.0 L345.50,786.0 L342.00,786.0 L342.00,796.0 L339.00,796.0 L339.00,801.0 L337.00,801.0 L337.00,799.6 L326.00,799.6 L326.00,798.0 L325.00,798.0 L325.00,801.0 L322.50,801.0 L322.50,798.5 L319.50,798.5 L319.50,801.0 L309.50,801.0 L309.50,795.5 L307.50,795.5 L307.50,801.0 L307.00,801.0 L307.00,791.0 L304.00,791.0 L304.00,801.0 L303.00,801.0 L303.00,790.0 L300.50,790.0 L300.50,801.0 L293.00,801.0 L293.00,796.0 L292.50,796.0 L292.50,801.0 L291.50,801.0 L291.50,795.0 L290.50,795.0 L290.50,801.0 L287.00,801.0 L287.00,794.0 L283.50,794.0 L283.50,801.0 L274.00,801.0 L274.00,794.0 L273.00,794.0 L273.00,801.0 L266.50,801.0 L266.50,785.0 L265.00,785.0 L265.00,801.0 L262.00,801.0 L262.00,790.0 L259.50,790.0 L259.50,801.0 L253.00,801.0 L253.00,797.0 L250.00,797.0 L250.00,801.0 L240.00,801.0 L240.00,797.5 L228.00,797.5 L228.00,786.0 L226.00,786.0 L226.00,782.0 L224.50,782.0 L224.50,801.0 L212.00,801.0 L212.00,796.5 L207.00,796.5 L207.00,787.0 L205.00,787.0 L205.00,796.0 L202.00,796.0 L202.00,801.0 L199.00,801.0 L199.00,788.0 L196.00,788.0 L196.00,784.0 L193.00,784.0 L193.00,793.0 L190.00,793.0 L190.00,791.0 L188.00,791.0 L188.00,801.0 L184.50,801.0 L184.50,793.0 L181.00,793.0 L181.00,784.0 L178.50,784.0 L178.50,801.0 L175.00,801.0 L175.00,795.0 L172.00,795.0 L172.00,793.0 L169.50,793.0 L169.50,780.0 L168.00,780.0 L168.00,793.0 L166.00,793.0 L166.00,801.0 L162.00,801.0 L162.00,783.0 L161.00,783.0 L161.00,801.0 L158.00,801.0 L158.00,777.0 L157.50,777.0 L157.50,801.0 L156.00,801.0Z"/>
<path fill="#ffffff" d="M233.2,759H233.9V778H233.2Z"/>
</g>
<g id="marker" fill="none" stroke="#c41422" stroke-width="1"><path d="M142.7,332.5H174.3M147.3,321.3L169.7,343.7M147.3,343.7L169.7,321.3"/><path stroke-opacity="0.5" d="M158.5,316.7V348.3"/></g>
<g id="xticklabels"><text x="156.5" y="834.8" text-anchor="middle">0</text><text x="342.5" y="834.8" text-anchor="middle">5</text><text x="528.5" y="834.8" text-anchor="middle">10</text><text x="714.5" y="834.8" text-anchor="middle">15</text><text x="900.5" y="834.8" text-anchor="middle">20</text><text x="1086.5" y="834.8" text-anchor="middle">25</text></g>
<g id="yticklabels"><text x="150.3" y="811.5" text-anchor="end">0</text><text x="150.3" y="665.0" text-anchor="end">50</text><text x="150.3" y="518.5" text-anchor="end">100</text><text x="150.3" y="371.9" text-anchor="end">150</text><text x="150.3" y="225.4" text-anchor="end">200</text><text x="150.3" y="78.9" text-anchor="end">250</text></g>
<text x="618.7" y="867.8" text-anchor="middle" letter-spacing="-0.45">f [1/day]</text>
<text transform="translate(82.8,434) rotate(-90)" text-anchor="middle">Power</text>
</svg>
</body>
</html>
